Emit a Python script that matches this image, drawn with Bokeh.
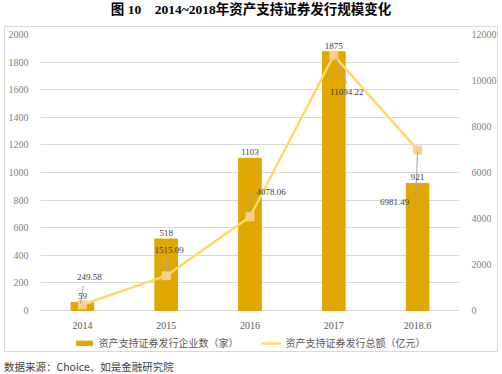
from bokeh.plotting import figure
from bokeh.models import (Range1d, LinearAxis, Legend, LegendItem, ColumnDataSource, Div,
                          FixedTicker, LabelSet)
from bokeh.layouts import column
from bokeh.embed import file_html
from bokeh.resources import INLINE
from bokeh.core.properties import value

# ---- data ----
categories = ["2014", "2015", "2016", "2017", "2018.6"]
issuers = [59, 518, 1103, 1875, 921]
amounts = [249.58, 1515.09, 4078.06, 11094.22, 6981.49]
issuer_labels = ["59", "518", "1103", "1875", "921"]
amount_labels = ["249.58", "1515.09", "4078.06", "11094.22", "6981.49"]
left_ticks = [0, 200, 400, 600, 800, 1000, 1200, 1400, 1600, 1800, 2000]
right_ticks = [0, 2000, 4000, 6000, 8000, 10000, 12000]
series_names = ["资产支持证券发行企业数（家）", "资产支持证券发行总额（亿元）"]
title_text = "图 10&nbsp;&nbsp;&nbsp;&nbsp;2014~2018年资产支持证券发行规模变化"
source_text = "数据来源：Choice、如是金融研究院"

# ---- style ----
PW, PH = 494, 326
FW = 423
AXIS_PX = 276          # pixels from value 0 to top of axis
PAD_PX = 42            # room below zero line for axis labels and legend
TOP = 7
SERIF = "Liberation Serif"
CJK = "Noto Sans CJK SC"
BAR = "#E1A600"
LINE = "#FFD966"
MARK = "#F9CF8E"

# label offsets in px (screen, y down) relative to the point
lab_dx = [7, 3, 21, 13, -23]
lab_dy = [-28, -26, -25, 37, 52]
lead = [(-2, -1, 1, -19), (0, -4, 1, -19), (0, -5, 0, -27), (2, 3, 13, 28), (0, 2, -2, 48)]

x = list(range(len(categories)))
px_x = FW / len(categories)
px_y = AXIS_PX / right_ticks[-1]
lmin = -PAD_PX * left_ticks[-1] / AXIS_PX
rmin = -PAD_PX * right_ticks[-1] / AXIS_PX

src = ColumnDataSource(dict(x=x, issuers=issuers, amounts=amounts,
                            il=issuer_labels, al=amount_labels,
                            dx=lab_dx, dy=[-d for d in lab_dy]))

p = figure(width=PW, height=PH, x_range=Range1d(-0.5, len(categories) - 0.5),
           y_range=Range1d(lmin, left_ticks[-1]), output_backend="svg",
           toolbar_location=None, min_border_left=33, min_border_right=PW - 33 - FW,
           min_border_top=TOP, min_border_bottom=PH - TOP - AXIS_PX - PAD_PX)
p.extra_y_ranges = {"amt": Range1d(rmin, right_ticks[-1])}
p.outline_line_color = None
p.xgrid.grid_line_color = None
p.ygrid.ticker = FixedTicker(ticks=left_ticks)
p.ygrid.grid_line_color = "#D9D9D9"

bars = p.vbar(x="x", top="issuers", width=0.27, color=BAR, source=src)
ln = p.line("x", "amounts", y_range_name="amt", color=LINE, line_width=2.5, source=src)
sq = p.scatter("x", "amounts", y_range_name="amt", marker="square", size=9,
               fill_color=MARK, line_color=None, source=src)

# leader lines
x0 = [xi + l[0] / px_x for xi, l in zip(x, lead)]
y0 = [a - l[1] / px_y for a, l in zip(amounts, lead)]
x1 = [xi + l[2] / px_x for xi, l in zip(x, lead)]
y1 = [a - l[3] / px_y for a, l in zip(amounts, lead)]
p.segment(x0, y0, x1, y1, y_range_name="amt", line_color="#A6A6A6", line_width=1)

p.add_layout(LabelSet(x="x", y="issuers", text="il", source=src, y_offset=3,
                      text_align="center", text_baseline="bottom",
                      text_font=value(SERIF), text_font_size="9px", text_color="#404040"))
p.add_layout(LabelSet(x="x", y="amounts", text="al", source=src, y_range_name="amt",
                      x_offset="dx", y_offset="dy",
                      text_align="center", text_baseline="middle",
                      text_font=value(SERIF), text_font_size="9px", text_color="#404040"))

# axes
p.yaxis[0].ticker = FixedTicker(ticks=left_ticks)
ra = LinearAxis(y_range_name="amt", ticker=FixedTicker(ticks=right_ticks))
p.add_layout(ra, "right")
for ax in [p.yaxis[0], ra, p.xaxis[0]]:
    ax.axis_line_color = None
    ax.major_tick_line_color = None
    ax.minor_tick_line_color = None
    ax.major_label_text_font = SERIF
    ax.major_label_text_font_size = "10px"
    ax.major_label_text_color = "#7F7F7F"
    ax.major_label_standoff = 6
p.xaxis[0].ticker = FixedTicker(ticks=x)
p.xaxis[0].fixed_location = 0
p.xaxis[0].major_label_overrides = {i: c for i, c in zip(x, categories)}
p.xaxis[0].major_label_standoff = 5
p.xaxis[0].major_label_text_color = "#595959"

legend = Legend(items=[LegendItem(label=series_names[0], renderers=[bars]),
                       LegendItem(label=series_names[1], renderers=[ln, sq])],
                orientation="horizontal", location="bottom_center",
                label_text_font=CJK, label_text_font_size="10px", label_text_color="#595959",
                glyph_width=20, glyph_height=6, spacing=22, padding=2, margin=2,
                border_line_color=None, background_fill_alpha=0)
p.add_layout(legend, "center")
p.styles = {"border": "1px solid #D9D9D9", "margin-left": "4px"}

title = Div(text=title_text, width=502, height=26, margin=0,
            styles={"font-family": "'Liberation Serif','Noto Sans CJK SC'", "font-weight": "bold",
                    "font-size": "13.5px", "text-align": "center", "width": "502px",
                    "color": "#000000"})
source = Div(text=source_text, width=494, height=18, margin=(7, 0, 0, 4),
             styles={"font-family": "'Noto Sans CJK SC'", "font-size": "10.5px",
                     "color": "#404040"})

lay = column(title, p, source, spacing=0)
open("out.html", "w").write(file_html(lay, INLINE))
